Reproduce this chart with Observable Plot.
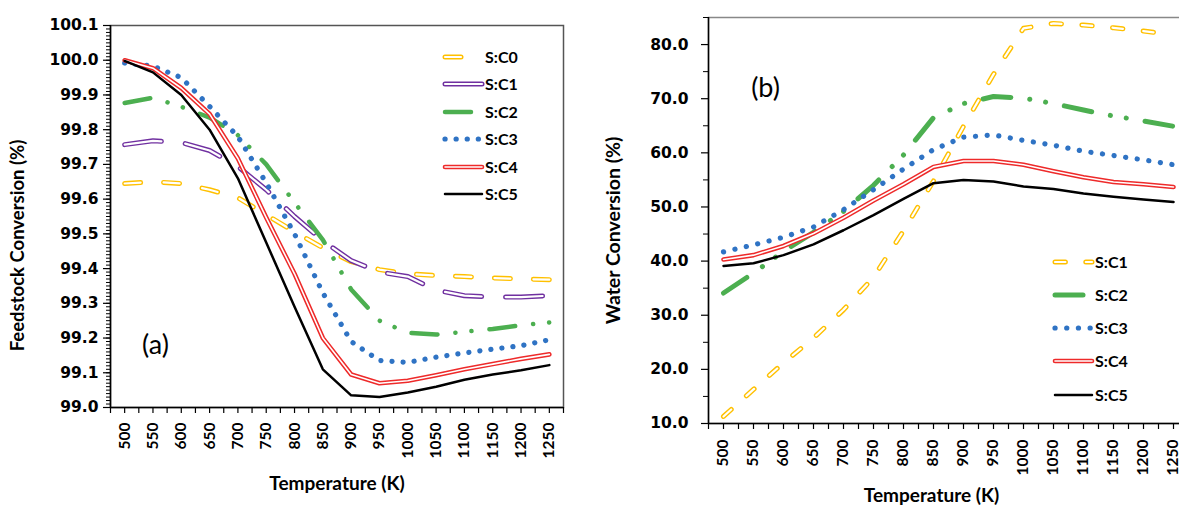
<!DOCTYPE html>
<html><head><meta charset="utf-8">
<script src="https://cdn.jsdelivr.net/npm/d3@7"></script>
<script src="https://cdn.jsdelivr.net/npm/@observablehq/plot@0.6"></script>
<style>
html,body{margin:0;padding:0;background:#fff;}
#wrap{position:relative;width:1179px;height:511px;overflow:hidden;background:#fff;}
#wrap > svg{position:absolute;top:0;}
</style></head><body><div id="wrap"></div>
<script>
// ---------- data ----------
const temps = [500,550,600,650,700,750,800,850,900,950,1000,1050,1100,1150,1200,1250];
const xTickLabels = [500,550,600,650,700,750,800,850,900,950,1000,1050,1100,1150,1200,1250];

// Panel (a): Feedstock conversion (%)
const feedC0 = [99.645,99.650,99.645,99.627,99.604,99.555,99.506,99.460,99.420,99.397,99.385,99.380,99.377,99.373,99.370,99.368];
const feedC1 = [99.757,99.768,99.763,99.740,99.694,99.627,99.550,99.480,99.423,99.390,99.377,99.338,99.322,99.318,99.318,99.322];
const feedC2 = [99.877,99.892,99.866,99.835,99.784,99.700,99.590,99.483,99.340,99.250,99.215,99.210,99.218,99.226,99.237,99.245];
const feedC3 = [99.992,99.983,99.950,99.867,99.780,99.647,99.500,99.330,99.190,99.135,99.130,99.145,99.157,99.168,99.178,99.195];
const feedC4 = [100.000,99.977,99.920,99.845,99.717,99.547,99.385,99.200,99.095,99.070,99.077,99.093,99.110,99.125,99.140,99.153];
const feedC5 = [99.998,99.965,99.900,99.800,99.660,99.475,99.290,99.110,99.035,99.030,99.043,99.060,99.080,99.095,99.107,99.122];
const feedLabels = ["S:C0","S:C1","S:C2","S:C3","S:C4","S:C5"];
const feedTicks = [99.0,99.1,99.2,99.3,99.4,99.5,99.6,99.7,99.8,99.9,100.0,100.1];

// Panel (b): Water conversion (%)
const waterC1 = [11.3,16.3,21.2,25.8,31.0,37.0,45.6,54.8,64.9,74.5,83.0,83.9,83.6,83.1,82.5,81.8];
const waterC2 = [34.1,37.8,41.8,45.3,49.2,54.0,59.6,66.5,69.1,70.4,70.1,69.1,67.9,66.8,65.9,64.9];
const waterC3 = [41.7,43.0,44.4,46.3,49.5,53.2,57.0,60.6,62.9,63.3,62.3,61.4,60.3,59.5,58.7,57.8];
const waterC4 = [40.3,41.1,42.8,45.1,48.0,51.2,54.2,57.4,58.5,58.5,57.8,56.6,55.5,54.6,54.2,53.7];
const waterC5 = [39.1,39.6,41.1,43.1,45.7,48.5,51.5,54.4,55.0,54.7,53.8,53.3,52.5,51.9,51.4,50.9];
const waterLabels = ["S:C1","S:C2","S:C3","S:C4","S:C5"];
const waterTicks = [10,20,30,40,50,60,70,80];

// ---------- styles ----------
const FONT = "Lato, 'Open Sans', sans-serif";
const TICKFONT = "'DejaVu Sans', sans-serif";
const YEL = "#FFC000", PUR = "#7030A0", GRN = "#4CAF50", BLU = "#2F73C4", RED = "#EE2A2A", BLK = "#000000";
const stA = {
  "S:C0": {color: YEL, w: 5, inner: 2.2, dash: "16,23"},
  "S:C1": {color: PUR, w: 5, inner: 2.2, dash: "37,24"},
  "S:C2": {color: GRN, w: 4.5, dash: "26,18,0.1,16,0.1,18"},
  "S:C3": {color: BLU, w: 5.2, dash: "0.1,11"},
  "S:C4": {color: RED, w: 4.6, inner: 1.6},
  "S:C5": {color: BLK, w: 2.5}
};
const stB = {
  "S:C1": {color: YEL, w: 5, inner: 2.2, dash: "10.4,20.4"},
  "S:C2": {color: GRN, w: 5, dash: "28,19,0.1,16,0.1,19"},
  "S:C3": {color: BLU, w: 5.2, dash: "0.1,11.6"},
  "S:C4": {color: RED, w: 4.6, inner: 1.6},
  "S:C5": {color: BLK, w: 2.5}
};

function seriesMarks(vals, st) {
  const base = {x: temps, y: vals, strokeLinecap: "round", strokeLinejoin: "round"};
  const m = [Plot.line(vals, {...base, stroke: st.color, strokeWidth: st.w, strokeDasharray: st.dash})];
  if (st.inner) m.push(Plot.line(vals, {...base, stroke: "#fff", strokeWidth: st.inner, strokeDasharray: st.dash}));
  return m;
}

const xDomain = [475, 1275];
const xMarks = d3.range(475, 1276, 25);

// ---------- panel (a) ----------
const feedSeries = [feedC0, feedC1, feedC2, feedC3, feedC4, feedC5];
const yDomA = [99.0, 100.1];
const plotA = Plot.plot({
  width: 590, height: 511,
  marginLeft: 110, marginRight: 27, marginTop: 25, marginBottom: 104,
  style: {background: "transparent", color: "black", fontFamily: FONT, overflow: "visible"},
  x: {domain: xDomain, label: null},
  y: {domain: yDomA, label: null},
  marks: [
    Plot.frame({stroke: "#555", strokeWidth: 1.5}),
    Plot.ruleX([xDomain[0]], {stroke: "black", strokeWidth: 1.5}),
    Plot.ruleY([yDomA[0]], {stroke: "black", strokeWidth: 1.5}),
    Plot.axisY({ticks: d3.range(9900, 10011).map(d => d / 100), tickSize: 4, tickFormat: () => "", strokeWidth: 1}),
    Plot.axisY({ticks: feedTicks, tickSize: 7, tickPadding: 5, tickFormat: d3.format(".1f"), fontSize: 15.5, fontWeight: "bold", fontFamily: TICKFONT, strokeWidth: 1.2}),
    Plot.axisX({ticks: xMarks, tickSize: 6, tickFormat: () => "", strokeWidth: 1.2}),
    Plot.axisX({ticks: xTickLabels, tickSize: 0, tickPadding: 15, tickRotate: -90, tickFormat: d => String(d), fontSize: 15.5, fontWeight: "bold", fontFamily: FONT}),
    ...feedLabels.flatMap((k, i) => seriesMarks(feedSeries[i], stA[k])),
    Plot.text(["Feedstock Conversion (%)"], {text: d => d, frameAnchor: "left", rotate: -90, dx: -92, dy: 29, fontSize: 18.5, fontWeight: "bold", fontFamily: FONT, textAnchor: "middle"}),
    Plot.text(["Temperature (K)"], {text: d => d, frameAnchor: "bottom", dy: 82, fontSize: 19, fontWeight: "bold", fontFamily: FONT, textAnchor: "middle"}),
    Plot.text(["(a)"], {text: d => d, frameAnchor: "bottom-left", dx: 45, dy: -54, fontSize: 27, fontFamily: FONT, textAnchor: "middle"})
  ]
});
plotA.style.left = "0px";
document.getElementById("wrap").appendChild(plotA);

// ---------- panel (b) ----------
const waterSeries = [waterC1, waterC2, waterC3, waterC4, waterC5];
const yDomB = [10, 85];
const plotB = Plot.plot({
  width: 620, height: 511,
  marginLeft: 118, marginRight: 22, marginTop: 17, marginBottom: 88,
  style: {background: "transparent", color: "black", fontFamily: FONT, overflow: "visible"},
  x: {domain: xDomain, label: null},
  y: {domain: yDomB, label: null},
  marks: [
    Plot.frame({stroke: "#888", strokeWidth: 1.5}),
    Plot.ruleX([xDomain[0]], {stroke: "black", strokeWidth: 1.5}),
    Plot.ruleY([yDomB[0]], {stroke: "black", strokeWidth: 1.5}),
    Plot.axisY({ticks: d3.range(15, 86, 10), tickSize: 5, tickFormat: () => "", strokeWidth: 1}),
    Plot.axisY({ticks: waterTicks, tickSize: 7, tickPadding: 13, tickFormat: d3.format(".1f"), fontSize: 15.5, fontWeight: "bold", fontFamily: TICKFONT, strokeWidth: 1.2}),
    Plot.axisX({ticks: xMarks, tickSize: 6, tickFormat: () => "", strokeWidth: 1.2}),
    Plot.axisX({ticks: xTickLabels, tickSize: 0, tickPadding: 16, tickRotate: -90, tickFormat: d => String(d), fontSize: 15.5, fontWeight: "bold", fontFamily: FONT}),
    ...waterLabels.flatMap((k, i) => seriesMarks(waterSeries[i], stB[k])),
    Plot.text(["Water Conversion (%)"], {text: d => d, frameAnchor: "left", rotate: -90, dx: -95, dy: 10, fontSize: 19.5, fontWeight: "bold", fontFamily: FONT, textAnchor: "middle"}),
    Plot.text(["Temperature (K)"], {text: d => d, frameAnchor: "bottom", dx: -17, dy: 78, fontSize: 19, fontWeight: "bold", fontFamily: FONT, textAnchor: "middle"}),
    Plot.text(["(b)"], {text: d => d, frameAnchor: "top-left", dx: 57, dy: 60, fontSize: 27, fontFamily: FONT, textAnchor: "middle"})
  ]
});
plotB.style.left = "590px";
document.getElementById("wrap").appendChild(plotB);

// ---------- legends ----------
const leg = d3.create("svg").attr("width", 1179).attr("height", 511)
  .style("left", "0px").style("pointer-events", "none");
function legend(labels, st, x0, x1, ys) {
  labels.forEach((k, i) => {
    const s = st[k], y = ys[i];
    const draw = (stroke, w) => leg.append("line").attr("x1", x0).attr("x2", x1).attr("y1", y).attr("y2", y)
      .attr("stroke", stroke).attr("stroke-width", w).attr("stroke-linecap", "round")
      .attr("stroke-dasharray", s.dash || null);
    draw(s.color, s.w);
    if (s.inner) draw("#fff", s.inner);
    leg.append("text").attr("x", x1 + 3).attr("y", y).attr("dy", "0.35em")
      .attr("font-family", FONT).attr("font-weight", "bold").attr("font-size", 16).text(k);
  });
}
legend(feedLabels, stA, 445, 482, [57, 84, 112, 139, 167, 194]);
legend(waterLabels, stB, 1055, 1092, [262, 295, 328, 361, 395]);
document.getElementById("wrap").appendChild(leg.node());
</script>
</body></html>
